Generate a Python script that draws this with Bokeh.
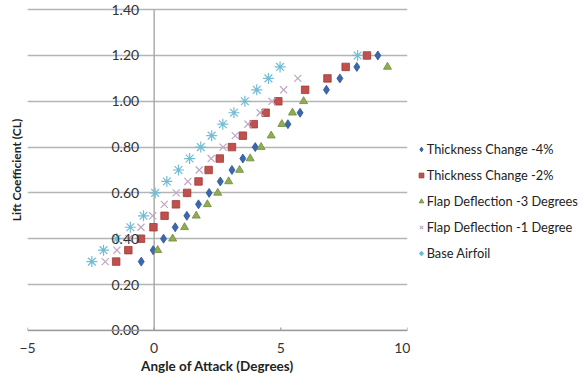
from bokeh.plotting import figure
from bokeh.layouts import row
from bokeh.models import (Range1d, FixedTicker, Span, Legend, LegendItem,
                          ColumnDataSource)
from bokeh.core.properties import value
from bokeh.embed import file_html
from bokeh.resources import INLINE

# ---- data ----
tc4_alpha = [-0.51, -0.04, 0.37, 0.83, 1.29, 1.75, 2.17, 2.61, 3.07, 3.50,
             3.99, 5.28, 5.76, 6.80, 7.33, 8.00, 8.83]
tc4_cl = [0.30, 0.35, 0.40, 0.45, 0.50, 0.55, 0.60, 0.65, 0.70, 0.75,
          0.80, 0.90, 0.95, 1.05, 1.10, 1.15, 1.20]

tc2_alpha = [-1.50, -1.02, -0.52, -0.03, 0.41, 0.86, 1.30, 1.75, 2.15, 2.59,
             3.07, 3.50, 3.93, 4.40, 4.90, 5.96, 6.84, 7.56, 8.40]
tc2_cl = [0.30, 0.35, 0.40, 0.45, 0.50, 0.55, 0.60, 0.65, 0.70, 0.75,
          0.80, 0.85, 0.90, 0.95, 1.00, 1.05, 1.10, 1.15, 1.20]

fd3_alpha = [0.14, 0.73, 1.20, 1.66, 2.10, 2.51, 2.94, 3.37, 3.79, 4.22,
             4.62, 5.04, 5.46, 5.90, 9.21]
fd3_cl = [0.35, 0.40, 0.45, 0.50, 0.55, 0.60, 0.65, 0.70, 0.75, 0.80,
          0.85, 0.90, 0.95, 1.00, 1.15]

fd1_alpha = [-1.93, -1.47, -1.00, -0.52, -0.06, 0.40, 0.87, 1.33, 1.78, 2.25,
             2.72, 3.20, 3.70, 4.18, 4.65, 5.11, 5.67]
fd1_cl = [0.30, 0.35, 0.40, 0.45, 0.50, 0.55, 0.60, 0.65, 0.70, 0.75,
          0.80, 0.85, 0.90, 0.95, 1.00, 1.05, 1.10]

base_alpha = [-2.46, -2.00, -1.48, -0.94, -0.42, 0.04, 0.50, 0.96, 1.40, 1.84,
              2.27, 2.71, 3.15, 3.58, 4.05, 4.51, 4.97, 8.03]
base_cl = [0.30, 0.35, 0.40, 0.45, 0.50, 0.60, 0.65, 0.70, 0.75, 0.80,
           0.85, 0.90, 0.95, 1.00, 1.05, 1.10, 1.15, 1.20]

series_names = ["Thickness Change -4%", "Thickness Change -2%",
                "Flap Deflection -3 Degrees", "Flap Deflection -1 Degree",
                "Base Airfoil"]

x_ticks = [-5, 0, 5, 10]
y_ticks = [0.0, 0.2, 0.4, 0.6, 0.8, 1.0, 1.2, 1.4]
y_tick_labels = ["0.00", "0.20", "0.40", "0.60", "0.80", "1.00", "1.20", "1.40"]

FONT = "Lato"

styles = [
    dict(marker="diamond", size=9, fill_color="#3a68b0", line_color="#2f5597", line_width=0.8),
    dict(marker="square", size=7.5, fill_color="#c0504d", line_color="#9c3c39", line_width=0.8),
    dict(marker="triangle", size=8, fill_color="#8fae4f", line_color="#71893f", line_width=0.8),
    dict(marker="x", size=10, line_color="#bfa6c4", line_width=1.2),
    dict(marker="asterisk", size=11, line_color="#72bcd4", line_width=1.2),
]
legend_sizes = [7, 6, 6.5, 7, 7.5]
series = [(tc4_alpha, tc4_cl), (tc2_alpha, tc2_cl), (fd3_alpha, fd3_cl),
          (fd1_alpha, fd1_cl), (base_alpha, base_cl)]

# ---------------- main chart ----------------
p = figure(width=410, height=379, output_backend="svg", toolbar_location=None,
           x_range=Range1d(-5, 10), y_range=Range1d(-0.04, 1.44),
           min_border_left=27, min_border_right=3, min_border_top=0,
           min_border_bottom=40)
p.outline_line_color = None
p.background_fill_color = "white"
p.border_fill_color = "white"

p.xgrid.visible = False
p.ygrid.ticker = FixedTicker(ticks=y_ticks)
p.ygrid.grid_line_color = "#b5b5b5"
p.ygrid.grid_line_width = 1.6

p.xaxis.ticker = FixedTicker(ticks=x_ticks)
p.xaxis.axis_line_color = None
p.xaxis.major_tick_line_color = None
p.xaxis.minor_tick_line_color = None
p.xaxis.major_tick_in = 0
p.xaxis.major_tick_out = 0
p.xaxis.major_label_text_font = FONT
p.xaxis.major_label_text_font_size = "14px"
p.xaxis.major_label_text_color = "#333333"
p.xaxis.major_label_standoff = 3
p.xaxis.axis_label = "Angle of Attack (Degrees)"
p.xaxis.axis_label_text_font = FONT
p.xaxis.axis_label_text_font_size = "13.5px"
p.xaxis.axis_label_text_font_style = "bold"
p.xaxis.axis_label_text_color = "#222222"
p.xaxis.axis_label_standoff = 2

p.yaxis.ticker = FixedTicker(ticks=[])
p.yaxis.axis_line_color = None
p.yaxis.major_tick_line_color = None
p.yaxis.minor_tick_line_color = None
p.yaxis.major_tick_out = 0
p.yaxis.major_label_standoff = 0
p.yaxis.axis_label = "Lift Coefficient (CL)"
p.yaxis.axis_label_text_font = FONT
p.yaxis.axis_label_text_font_size = "12px"
p.yaxis.axis_label_text_font_style = "bold"
p.yaxis.axis_label_text_color = "#222222"
p.yaxis.axis_label_standoff = 4

# category axis line at y = 0 and value axis line at x = 0
p.add_layout(Span(location=y_ticks[0], dimension="width", line_color="#9a9a9a",
                  line_width=1.4))
p.segment(x0=[0], y0=[y_ticks[0]], x1=[0], y1=[y_ticks[-1]],
          line_color="#a6a6a6", line_width=1.4)
p.segment(x0=x_ticks, y0=[y_ticks[0]] * len(x_ticks), x1=x_ticks,
          y1=[y_ticks[0] + 0.012] * len(x_ticks),
          line_color="#9a9a9a", line_width=1.2)

for (xs, ys), st in zip(series, styles):
    p.scatter(xs, ys, **st)

ysrc = ColumnDataSource(dict(x=[0] * len(y_ticks), y=y_ticks, t=y_tick_labels))
p.text(x="x", y="y", text="t", source=ysrc, x_offset=-15,
       text_align="right", text_baseline="middle",
       text_font=value(FONT), text_font_size="14px", text_color="#333333")

# ---------------- legend panel ----------------
# the series are re-drawn here out of view only to feed the legend glyphs
lg = figure(width=172, height=379, output_backend="svg", toolbar_location=None,
            x_range=Range1d(0, 1), y_range=Range1d(10, 11),
            x_axis_type=None, y_axis_type=None,
            min_border_left=0, min_border_right=0, min_border_top=0,
            min_border_bottom=0)
lg.outline_line_color = None
lg.grid.visible = False
lg.background_fill_color = "white"
lg.border_fill_color = "white"

items = []
for name, (xs, ys), st, ls in zip(series_names, series, styles, legend_sizes):
    st2 = dict(st)
    st2["size"] = ls
    r = lg.scatter(xs, ys, **st2)
    items.append(LegendItem(label=name, renderers=[r]))

legend = Legend(items=items, location=(4.7, 78))
legend.background_fill_alpha = 0
legend.border_line_color = None
legend.padding = 0
legend.margin = 0
legend.spacing = 10
legend.glyph_width = 12
legend.glyph_height = 16
legend.label_height = 16
legend.label_standoff = 0
legend.label_text_font = FONT
legend.label_text_font_size = "12.8px"
legend.label_text_color = "#222222"
lg.add_layout(legend, "center")

layout = row(p, lg, spacing=0)
open("out.html", "w").write(file_html(layout, INLINE))
